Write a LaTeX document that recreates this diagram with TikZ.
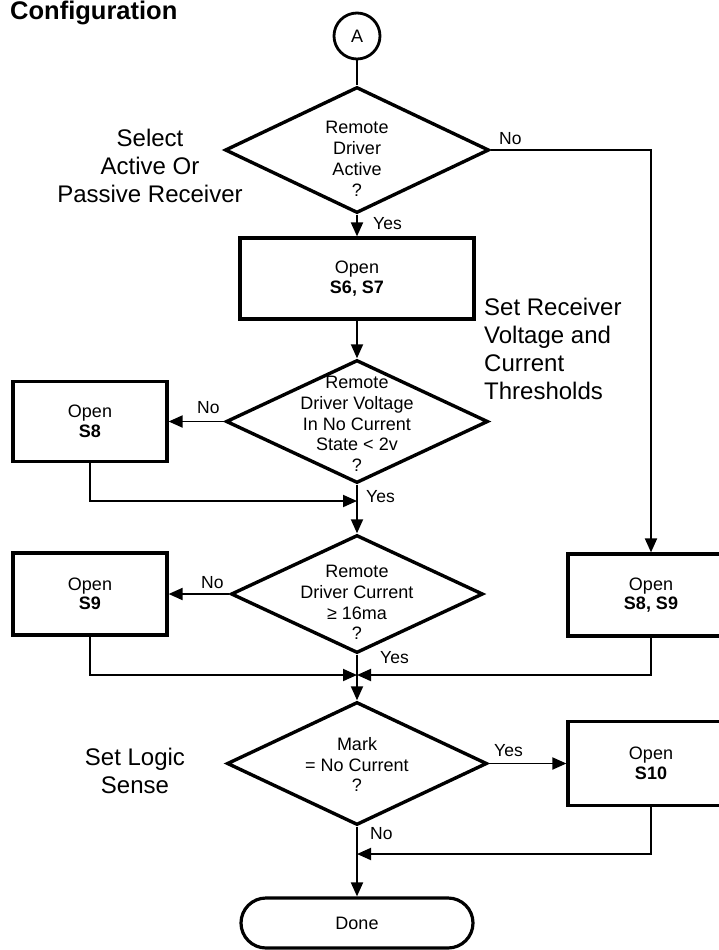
\documentclass[tikz,border=0pt]{standalone}
\usepackage{fontspec}
\setmainfont{Liberation Sans}
\usetikzlibrary{shapes.geometric,arrows.meta}

\newcommand{\fsz}[2]{\fontsize{#1}{#2}\selectfont}

\begin{document}
\begin{tikzpicture}[x=1pt,y=-1pt,
    decision/.style={diamond, draw, line width=3.4pt, inner sep=0pt,
      minimum height=123pt},
    dtext/.style={align=center, inner sep=0pt, font=\fsz{18}{20.8}},
    box/.style={rectangle, draw, line width=3.2pt, align=center,
      font=\fsz{18}{19.5}},
    flow/.style={line width=1.9pt, -{Triangle[length=14pt,width=12pt]}},
    tag/.style={anchor=base west, inner sep=0pt, font=\fsz{17.5}{20}},
    note/.style={inner sep=0pt, font=\fsz{24}{28}}]
  \useasboundingbox (0,0) rectangle (718,950);

  \node[anchor=base west, inner sep=0pt, font=\bfseries\fsz{25.5}{30}]
    (title) at (10,20) {Configuration};

  % main column
  \node[circle, draw, line width=2.8pt, minimum size=46pt, inner sep=0pt,
    font=\fsz{18}{20}] (start) at (357,36) {A};
  \node[decision, minimum width=264pt, minimum height=126pt,
    label={[dtext,yshift=-9pt]center:Remote\\Driver\\Active\\?}]
    (active) at (357,150) {};
  \node[box, minimum width=234pt, minimum height=81pt]
    (open67) at (357,278.5) {Open\\\textbf{S6, S7}};
  \node[decision, minimum width=262pt,
    label={[dtext,yshift=-2.5pt]center:Remote\\Driver Voltage\\In No Current\\State < 2v\\?}]
    (volt) at (357,421.5) {};
  \node[decision, minimum width=252pt, minimum height=118pt,
    label={[dtext,yshift=-8.5pt]center:Remote\\Driver Current\\≥ 16ma\\?}]
    (curr) at (357,594) {};
  \node[decision, minimum width=260pt,
    label={[dtext,yshift=-1pt]center:Mark\\= No Current\\?}]
    (mark) at (357,763.5) {};
  \node[box, rounded corners=25pt, minimum width=232pt, minimum height=50pt]
    (done) at (357,923) {Done};

  % side boxes
  \node[box, minimum width=154pt, minimum height=80pt]
    (open8) at (90,421.5) {Open\\\textbf{S8}};
  \node[box, minimum width=154pt, minimum height=82pt]
    (open9) at (90,594) {Open\\\textbf{S9}};
  \node[box, minimum width=166pt, minimum height=82pt]
    (open89) at (651,595) {Open\\\textbf{S8, S9}};
  \node[box, minimum width=166pt, minimum height=84pt]
    (open10) at (651,763.5) {Open\\\textbf{S10}};

  % junctions on the main line
  \coordinate (join8) at (357,501);
  \coordinate (join9) at (357,675);
  \coordinate (join10) at (357,854);

  % step notes
  \node[note, align=center] (selnote) at (150,166) {Select\\Active Or\\Passive Receiver};
  \node[note, align=left, anchor=west] (thrnote) at (484,349)
    {Set Receiver\\Voltage and\\Current\\Thresholds};
  \node[note, align=center] (lognote) at (135,771) {Set Logic\\Sense};

  % connectors
  \draw[line width=1.9pt] (start) -- (active);
  \draw[flow] (active.south) -- (open67.north);
  \draw[flow] (active.east) -| (open89.north);
  \draw[flow] (open67.south) -- (volt.north);
  \draw[flow] (volt.west) -- (open8.east);
  \draw[flow] (volt.south) -- (curr.north);
  \draw[flow] (open8.south) |- (join8);
  \draw[flow] (curr.west) -- (open9.east);
  \draw[flow] (curr.south) -- (mark.north);
  \draw[flow] (open9.south) |- (join9);
  \draw[flow] (open89.south) |- (join9);
  \draw[flow] (mark.east) -- (open10.west);
  \draw[flow] (mark.south) -- (done.north);
  \draw[flow] (open10.south) |- (join10);

  % branch tags
  \node[tag] (yes1) at (373,229) {Yes};
  \node[tag] (no1) at (499,144) {No};
  \node[tag] (no2) at (197,413) {No};
  \node[tag] (yes2) at (366,502) {Yes};
  \node[tag] (no3) at (201,588) {No};
  \node[tag] (yes3) at (380,663) {Yes};
  \node[tag] (yes4) at (494,756) {Yes};
  \node[tag] (no4) at (370,839) {No};
\end{tikzpicture}
\end{document}
